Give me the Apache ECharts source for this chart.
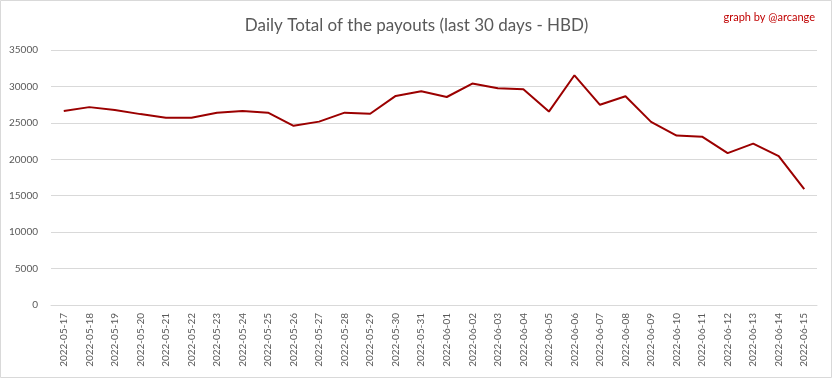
<!DOCTYPE html>
<html><head><meta charset="utf-8">
<script src="https://cdn.jsdelivr.net/npm/echarts@6/dist/echarts.min.js"></script>
<style>html,body{margin:0;padding:0;background:#fff}#c{width:833px;height:379px}</style>
</head><body><div id="c"></div>
<script>
const categories = ["2022-05-17","2022-05-18","2022-05-19","2022-05-20","2022-05-21","2022-05-22","2022-05-23","2022-05-24","2022-05-25","2022-05-26","2022-05-27","2022-05-28","2022-05-29","2022-05-30","2022-05-31","2022-06-01","2022-06-02","2022-06-03","2022-06-04","2022-06-05","2022-06-06","2022-06-07","2022-06-08","2022-06-09","2022-06-10","2022-06-11","2022-06-12","2022-06-13","2022-06-14","2022-06-15"];
const payouts = [26620,27160,26750,26200,25700,25700,26400,26620,26400,24600,25170,26400,26250,28700,29350,28550,30400,29750,29600,26550,31530,27480,28650,25130,23250,23100,20850,22150,20430,15900];
const titleText = "Daily Total of the payouts (last 30 days - HBD)";
const creditText = "graph by @arcange";
const font = "Lato, 'Open Sans', sans-serif";
const chart = echarts.init(document.getElementById('c'));
chart.setOption({
  animation:false,
  backgroundColor:'#fff',
  title:[
    {text:titleText,left:'center',top:12,textStyle:{color:'#595959',fontSize:17,fontWeight:'normal',fontFamily:font}},
    {text:creditText,right:13,top:7,textStyle:{color:'#C00000',fontSize:11,fontWeight:'normal',fontFamily:font}}
  ],
  graphic:[{type:'rect',shape:{x:0.5,y:0.5,width:831,height:377},style:{fill:'none',stroke:'#d9d9d9',lineWidth:1},silent:true}],
  grid:{left:51,right:16,top:50,bottom:74},
  xAxis:{type:'category',data:categories,boundaryGap:true,
    axisLine:{show:true,lineStyle:{color:'#d9d9d9'}},axisTick:{show:false},
    axisLabel:{rotate:90,interval:0,color:'#595959',fontSize:10,fontFamily:font,margin:8}},
  yAxis:{type:'value',min:0,max:35000,interval:5000,
    axisLine:{show:false},axisTick:{show:false},
    splitLine:{lineStyle:{color:'#d9d9d9'}},
    axisLabel:{color:'#595959',fontSize:10,fontFamily:font,margin:13,formatter:function(v){return String(v);}}},
  series:[{type:'line',data:payouts,symbol:'none',lineStyle:{color:'#9B0000',width:2}}]
});
</script></body></html>
